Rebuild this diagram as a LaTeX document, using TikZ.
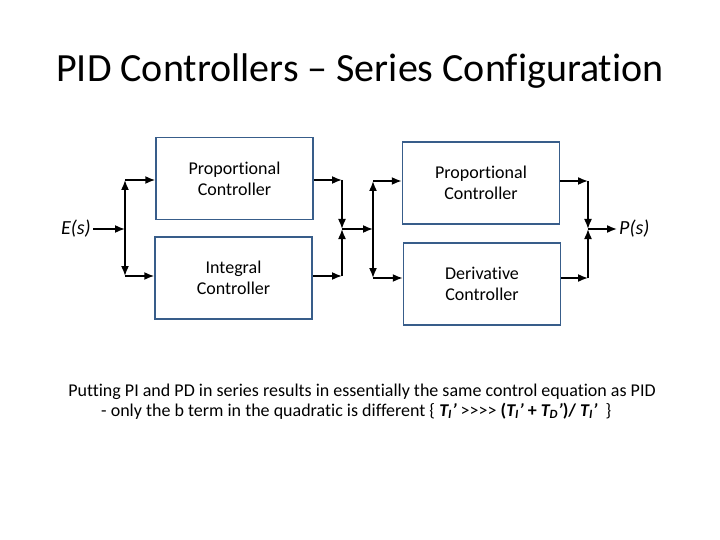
\documentclass[tikz,border=0pt]{standalone}
\usepackage{fontspec}
\setmainfont{Carlito}[Ligatures={NoCommon,TeXOff}]
\usetikzlibrary{arrows.meta}
\definecolor{boxblue}{RGB}{56,93,138}
\tikzset{
  ctrl/.style={draw=boxblue, line width=1.5pt, minimum width=157pt, minimum height=82pt,
    inner sep=0pt, align=center, font=\fontsize{18}{21}\selectfont},
  sig/.style={line width=1.6pt, -{Latex[length=10pt,width=8pt]}},
  lbl/.style={font=\fontsize{20}{24}\selectfont\itshape, inner sep=2pt},
}

\begin{document}
\begin{tikzpicture}[x=1pt,y=-1pt]
\useasboundingbox (0,0) rectangle (720,540);

\node[anchor=base, font=\fontsize{40}{48}\selectfont] (title) at (360,82) {PID Controllers – Series Configuration};

% controller blocks
\node[ctrl] (p1) at (234.5,178.5) {Proportional\\Controller};
\node[ctrl] (i1) at (233.5,278) {Integral\\Controller};
\node[ctrl] (p2) at (481,183) {Proportional\\Controller};
\node[ctrl] (d2) at (482,284) {Derivative\\Controller};

% input and output
\node[lbl, anchor=east] (E) at (93,229) {E(s)};
\node[lbl, anchor=west] (P) at (617,229) {P(s)};

% split and merge points
\coordinate (s1) at (125,229);
\coordinate (s1t) at (125,180);
\coordinate (s1b) at (125,276);
\coordinate (m1) at (342,229);
\coordinate (m1t) at (342,180);
\coordinate (m1b) at (342,276);
\coordinate (s2) at (373,229);
\coordinate (s2t) at (373,181);
\coordinate (s2b) at (373,278);
\coordinate (m2) at (588,229);
\coordinate (m2t) at (588,181);
\coordinate (m2b) at (588,278);

% PI stage
\draw[sig] (E) -- (s1);
\draw[sig] (s1) -- (s1t);
\draw[sig] (s1) -- (s1b);
\draw[sig] (s1t) -- (s1t -| p1.west);
\draw[sig] (s1b) -- (s1b -| i1.west);
\draw[sig] (p1.east |- m1t) -- (m1t);
\draw[sig] (i1.east |- m1b) -- (m1b);
\draw[sig] (m1t) -- (m1);
\draw[sig] (m1b) -- (m1);

% PD stage
\draw[sig] (m1) -- (s2);
\draw[sig] (s2) -- (s2t);
\draw[sig] (s2) -- (s2b);
\draw[sig] (s2t) -- (s2t -| p2.west);
\draw[sig] (s2b) -- (s2b -| d2.west);
\draw[sig] (p2.east |- m2t) -- (m2t);
\draw[sig] (d2.east |- m2b) -- (m2b);
\draw[sig] (m2t) -- (m2);
\draw[sig] (m2b) -- (m2);
\draw[sig] (m2) -- (P);

% note
\node[anchor=base, font=\fontsize{18}{21}\selectfont] (note1) at (362,396)
  {Putting PI and PD in series results in essentially the same control equation as PID};
\node[anchor=base west, font=\fontsize{18}{21}\selectfont, inner sep=0pt] (note2) at (101,416)
  {- only the b term in the quadratic is different \{ \textbf{\textit{T\textsubscript{I}’}} >>>> \textbf{(\textit{T\textsubscript{I}’} + \textit{T\textsubscript{D}’})/ \textit{T\textsubscript{I}’}}\ \ \}};
\end{tikzpicture}
\end{document}
